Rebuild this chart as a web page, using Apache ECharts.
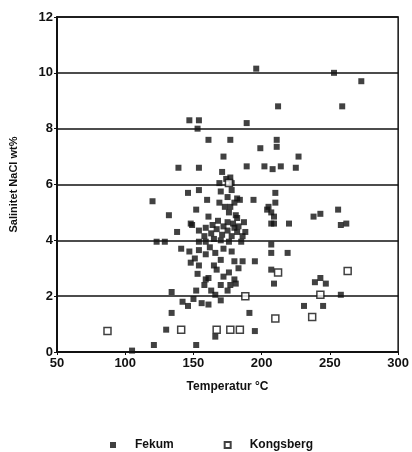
<!DOCTYPE html>
<html>
<head>
<meta charset="utf-8">
<script src="https://cdn.jsdelivr.net/npm/echarts@6/dist/echarts.min.js"></script>
<style>
  html, body { margin: 0; padding: 0; background: #fff; }
  #chart { width: 412px; height: 452px; }
</style>
</head>
<body>
<div id="chart"></div>
<script>
// Fluid inclusion homogenisation temperature vs. salinity
const xTicks = { min: 50, max: 300, step: 50 };
const yTicks = { min: 0, max: 12, step: 2 };

const fekumTemp = [
  196, 253, 273, 212, 259,
  147, 154, 153, 189,
  211, 211, 161, 177, 199, 227, 172,
  139, 154, 189, 202, 208, 214, 225,
  171, 174, 178, 169, 177,
  146, 154, 160, 120, 182, 194, 210, 210, 205, 256,
  132, 152, 161, 207, 204, 209, 238, 243, 258, 262, 220, 209, 207,
  148, 138,
  170, 175, 169, 178, 180, 173, 184, 177,
  176, 182, 175, 183, 181, 187, 180, 188,
  154, 159, 163, 167, 171, 175, 178, 182, 186, 165, 158, 149,
  168, 164, 172, 179, 170, 176, 185,
  123, 129, 154, 159,
  141, 147, 154, 151, 159, 154, 148, 162, 166, 172, 178,
  170, 180, 186, 195, 207, 219, 207,
  207, 209, 153, 159, 167, 172, 176, 180, 170, 175, 166, 170, 177, 181, 158, 163, 152, 161, 165, 183,
  239, 243, 247, 258, 134,
  142, 146, 156, 161, 134, 191, 231, 245, 150,
  130, 166, 195, 121, 152, 105
];
const fekumSal = [
  10.15, 10.0, 9.7, 8.8, 8.8,
  8.3, 8.3, 8.0, 8.2,
  7.6, 7.35, 7.6, 7.6, 7.3, 7.0, 7.0,
  6.6, 6.6, 6.65, 6.65, 6.55, 6.65, 6.6,
  6.45, 6.2, 6.05, 6.05, 6.25,
  5.7, 5.8, 5.45, 5.4, 5.5, 5.45, 5.7, 5.35, 5.2, 5.1,
  4.9, 5.1, 4.85, 5.0, 5.1, 4.85, 4.85, 4.95, 4.55, 4.6, 4.6, 4.6, 4.6,
  4.6, 4.3,
  5.75, 5.55, 5.35, 5.8, 5.35, 5.2, 5.45, 5.2,
  5.0, 4.8, 4.65, 4.5, 4.9, 4.65, 4.45, 4.3,
  4.35, 4.45, 4.25, 4.4, 4.2, 4.35, 4.15, 4.3, 4.15, 4.05, 4.15, 4.55,
  4.7, 4.55, 4.5, 4.6, 4.0, 3.95, 3.95,
  3.95, 3.95, 3.95, 3.95,
  3.7, 3.6, 3.65, 3.35, 3.5, 3.1, 3.2, 3.75, 3.55, 3.7, 3.6,
  3.3, 3.25, 3.25, 3.25, 3.55, 3.55, 3.85,
  2.95, 2.45, 2.8, 2.6, 2.95, 2.7, 2.85, 2.6, 2.4, 2.2, 2.05, 1.85, 2.4, 2.45, 2.4, 2.2, 2.2, 2.65, 3.1, 3.0,
  2.5, 2.65, 2.45, 2.05, 2.15,
  1.8, 1.65, 1.75, 1.7, 1.4, 1.4, 1.65, 1.65, 1.9,
  0.8, 0.55, 0.75, 0.25, 0.25, 0.05
];

const kongsbergTemp = [87, 141, 167, 177, 184, 210, 237, 243, 188, 212, 263, 176];
const kongsbergSal  = [0.75, 0.8, 0.8, 0.8, 0.8, 1.2, 1.25, 2.05, 2.0, 2.85, 2.9, 6.05];

const seriesNames = ['Fekum', 'Kongsberg'];

const zip = (xs, ys) => xs.map((x, i) => [x, ys[i]]);

const font = '"Liberation Sans", Arial, sans-serif';
const ink = '#111';

const chart = echarts.init(document.getElementById('chart'), null, { renderer: 'canvas' });

chart.setOption({
  animation: false,
  backgroundColor: '#fff',
  grid: {
    left: 57, right: 12, top: 17, bottom: 100,
    show: true, borderColor: ink, borderWidth: 1.5, backgroundColor: 'transparent'
  },
  legend: {
    left: 105, top: 434,
    itemGap: 50,
    itemWidth: 6, itemHeight: 6,
    data: [
      { name: seriesNames[0], icon: 'rect' },
      { name: seriesNames[1], icon: 'rect' }
    ],
    textStyle: { fontFamily: font, fontSize: 12, fontWeight: 'bold', color: ink, padding: [0, 0, 0, 14] }
  },
  xAxis: {
    type: 'value',
    min: xTicks.min, max: xTicks.max, interval: xTicks.step,
    name: 'Temperatur \u00B0C',
    nameLocation: 'middle', nameGap: 29,
    nameTextStyle: { fontFamily: font, fontSize: 12, fontWeight: 'bold', color: ink },
    axisLine: { show: true, lineStyle: { color: ink, width: 2 } },
    axisTick: { show: true, length: 3, lineStyle: { color: ink } },
    axisLabel: { fontFamily: font, fontSize: 13, fontWeight: 'bold', color: ink, margin: 5 },
    splitLine: { show: false }
  },
  yAxis: {
    type: 'value',
    min: yTicks.min, max: yTicks.max, interval: yTicks.step,
    name: 'Salinitet NaCl wt%',
    nameLocation: 'middle', nameGap: 38,
    nameTextStyle: { fontFamily: font, fontSize: 11, fontWeight: 'bold', color: ink },
    axisLine: { show: true, lineStyle: { color: ink, width: 2 } },
    axisTick: { show: true, length: 3, lineStyle: { color: ink } },
    axisLabel: { fontFamily: font, fontSize: 13, fontWeight: 'bold', color: ink, margin: 4 },
    splitLine: { show: true, lineStyle: { color: ink, width: 1.5 } }
  },
  series: [
    {
      name: seriesNames[0],
      type: 'scatter',
      symbol: 'rect',
      symbolSize: 6,
      itemStyle: { color: ink },
      data: zip(fekumTemp, fekumSal)
    },
    {
      name: seriesNames[1],
      type: 'scatter',
      symbol: 'rect',
      symbolSize: 7,
      itemStyle: { color: '#fff', borderColor: ink, borderWidth: 1.5 },
      data: zip(kongsbergTemp, kongsbergSal),
      z: 3
    }
  ]
});
</script>
</body>
</html>
